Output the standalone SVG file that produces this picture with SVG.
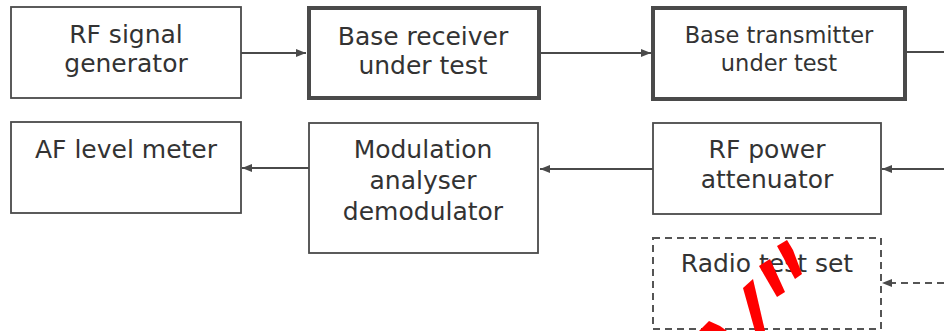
<svg xmlns="http://www.w3.org/2000/svg" width="944" height="331" viewBox="0 0 944 331">
<style>
.box{fill:#fff;stroke:#4a4a4a;stroke-width:1.8}
.thick{fill:#fff;stroke:#4a4a4a;stroke-width:4}
.dash{fill:#fff;stroke:#555;stroke-width:2;stroke-dasharray:7 5}
.t{font-family:"DejaVu Sans",Verdana,sans-serif;font-size:25px;fill:#333;text-anchor:middle}
.s{font-size:22.5px}
.c{stroke:#4a4a4a;stroke-width:1.8;fill:none}
.cd{stroke:#555;stroke-width:2;fill:none;stroke-dasharray:7 5}
.red{fill:#f00}
</style>
<defs>
<marker id="ah" viewBox="0 0 10 8" refX="10" refY="4" markerWidth="10" markerHeight="8" markerUnits="userSpaceOnUse" orient="auto">
<path d="M0,0 L10,4 L0,8 Z" fill="#4a4a4a"/>
</marker>
</defs>
<g id="connectors">
<line class="c" x1="241" y1="53" x2="306" y2="53" marker-end="url(#ah)"/>
<line class="c" x1="539" y1="53" x2="651" y2="53" marker-end="url(#ah)"/>
<line class="c" x1="905" y1="52" x2="944" y2="52"/>
<line class="c" x1="309" y1="168" x2="242" y2="168" marker-end="url(#ah)"/>
<line class="c" x1="653" y1="169" x2="540" y2="169" marker-end="url(#ah)"/>
<line class="c" x1="944" y1="169" x2="882" y2="169" marker-end="url(#ah)"/>
<line class="cd" x1="944" y1="283" x2="890" y2="283"/>
<path d="M892,279 L882,283 L892,287 Z" fill="#4a4a4a"/>
</g>
<g id="rf-signal-generator">
<rect class="box" x="11" y="7" width="230" height="91"/>
<text class="t" x="126" y="43">RF signal</text>
<text class="t" x="126" y="72">generator</text>
</g>
<g id="base-receiver">
<rect class="thick" x="309" y="8" width="230" height="90"/>
<text class="t" x="423" y="45">Base receiver</text>
<text class="t" x="423" y="74">under test</text>
</g>
<g id="base-transmitter">
<rect class="thick" x="653" y="8" width="252" height="91"/>
<text class="t s" x="779" y="43">Base transmitter</text>
<text class="t s" x="779" y="71">under test</text>
</g>
<g id="af-level-meter">
<rect class="box" x="11" y="122" width="230" height="91"/>
<text class="t" x="126" y="158">AF level meter</text>
</g>
<g id="modulation-analyser">
<rect class="box" x="309" y="123" width="229" height="130"/>
<text class="t" x="423" y="158">Modulation</text>
<text class="t" x="423" y="189">analyser</text>
<text class="t" x="423" y="220">demodulator</text>
</g>
<g id="rf-power-attenuator">
<rect class="box" x="653" y="123" width="228" height="91"/>
<text class="t" x="767" y="158">RF power</text>
<text class="t" x="767" y="188">attenuator</text>
</g>
<g id="radio-test-set">
<rect class="dash" x="653" y="238" width="228" height="91"/>
<text class="t" x="767" y="272">Radio test set</text>
</g>
<g id="red-marks">
<polygon class="red" points="777,246 787,240 793,250 802,274 795,279"/>
<polygon class="red" points="759,266 770,259 785,292 777,297"/>
<polygon class="red" points="743,288 753,279 765,331 755,331"/>
<polygon class="red" points="699,331 709,321 720,326 727,331"/>
</g>
</svg>
